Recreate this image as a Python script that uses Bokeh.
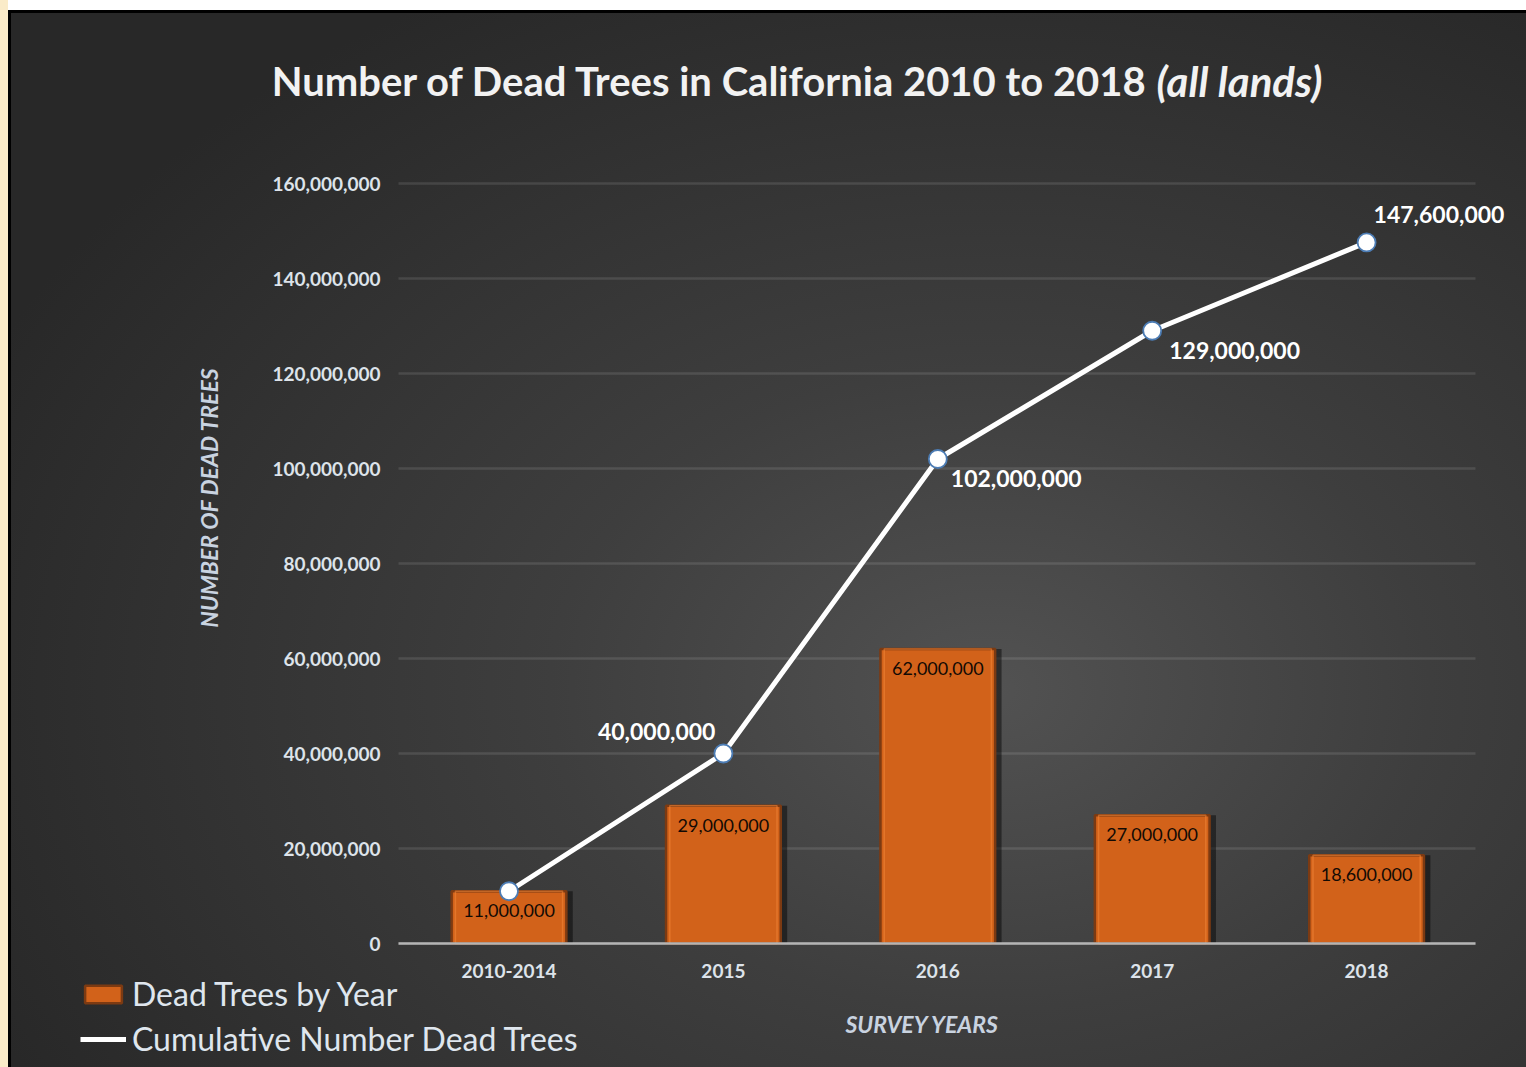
import numpy as np
from bokeh.plotting import figure
from bokeh.models import (Range1d, FixedTicker, NumeralTickFormatter, ColumnDataSource,
                          Legend, LegendItem, InlineStyleSheet)
from bokeh.transform import dodge
from bokeh.core.properties import value
from bokeh.embed import file_html
from bokeh.resources import INLINE

# ---------------- data ----------------
categories = ["2010-2014", "2015", "2016", "2017", "2018"]
dead_by_year = [11_000_000, 29_000_000, 62_000_000, 27_000_000, 18_600_000]
cumulative = [11_000_000, 40_000_000, 102_000_000, 129_000_000, 147_600_000]
bar_labels = ["11,000,000", "29,000,000", "62,000,000", "27,000,000", "18,600,000"]
line_labels = ["", "40,000,000", "102,000,000", "129,000,000", "147,600,000"]
y_ticks = [0, 20_000_000, 40_000_000, 60_000_000, 80_000_000,
           100_000_000, 120_000_000, 140_000_000, 160_000_000]
title_main = "Number of Dead Trees in California 2010 to 2018"
title_note = "(all lands)"
y_title = "NUMBER OF DEAD TREES"
x_title = "SURVEY YEARS"

# ---------------- layout constants (pixels -> data) ----------------
FONT = "Lato"
W, H = 1526, 1067
PX_PER_CAT = 214.4        # horizontal pixels per category
X0_PX = 508.5             # pixel position of first category
PX_PER_M = 4.75           # vertical pixels per million
Y0_PX = 943               # pixel position of y = 0


def xd(px):
    return (px - X0_PX) / PX_PER_CAT


def yd(py):
    return (Y0_PX - py) / PX_PER_M * 1e6


idx = list(range(len(categories)))

css = InlineStyleSheet(css="""
:host {
  background:
    linear-gradient(to right, #faebc8 0px, #faebc8 8px, transparent 8px),
    linear-gradient(to bottom, #ffffff 0px, #ffffff 10px, transparent 10px),
    linear-gradient(to right, transparent 8px, #000000 8px, #000000 11px, transparent 11px),
    linear-gradient(to bottom, transparent 10px, #000000 10px, #000000 13px, transparent 13px),
    radial-gradient(ellipse 1100px 800px at 990px 690px, #525252 0%, #3e3e3e 40%, #282828 100%);
}
""")

p = figure(width=W, height=H, output_backend="svg", toolbar_location=None,
           x_range=Range1d(xd(0), xd(W)), y_range=Range1d(yd(H), yd(0)),
           min_border=0, border_fill_color=None, background_fill_color=None,
           outline_line_color=None, stylesheets=[css])

grid_left, grid_right = xd(398), xd(1475)

# grid (horizontal lines only between the y axis and the right end of the plot)
p.xgrid.visible = False
yg = p.ygrid[0]
GRID_STYLE = dict(line_color="white", line_alpha=0.11, line_width=2.5)
if "cross_bounds" in yg.properties():
    yg.ticker = FixedTicker(ticks=y_ticks)
    yg.grid_line_color = GRID_STYLE["line_color"]
    yg.grid_line_alpha = GRID_STYLE["line_alpha"]
    yg.grid_line_width = GRID_STYLE["line_width"]
    yg.cross_bounds = (grid_left, grid_right)
else:
    yg.visible = False
    p.segment(x0=[grid_left] * len(y_ticks), x1=[grid_right] * len(y_ticks),
              y0=y_ticks, y1=y_ticks, **GRID_STYLE)

# y axis (drawn at the left end of the grid lines)
ya = p.yaxis[0]
ya.fixed_location = grid_left
ya.bounds = (0, 160_000_000)
ya.ticker = FixedTicker(ticks=y_ticks)
ya.formatter = NumeralTickFormatter(format="0,0")
ya.axis_line_color = None
ya.major_tick_line_color = None
ya.minor_tick_line_color = None
ya.major_tick_out = 0
ya.major_label_standoff = 18
ya.major_label_text_font = FONT
ya.major_label_text_font_style = "bold"
ya.major_label_text_font_size = "19px"
ya.major_label_text_color = "#dde3ea"

# x axis (drawn at y = 0)
xa = p.xaxis[0]
xa.fixed_location = 0
xa.ticker = FixedTicker(ticks=idx)
xa.major_label_overrides = {i: c for i, c in zip(idx, categories)}
xa.bounds = (grid_left, grid_right)
xa.axis_line_color = "#b4b4b4"
xa.axis_line_width = 2.5
xa.major_tick_line_color = None
xa.minor_tick_line_color = None
xa.major_tick_out = 0
xa.major_label_standoff = 20
xa.major_label_text_font = FONT
xa.major_label_text_font_style = "bold"
xa.major_label_text_font_size = "19px"
xa.major_label_text_color = "#dde3ea"

# axis titles
p.text(x=[xd(208)], y=[yd(497)], text=[y_title], angle=np.pi / 2, text_align="center",
       text_baseline="middle", text_font=value(FONT), text_font_style="bold italic",
       text_font_size="23px", text_color="#c9d3e0")
p.text(x=[xd(922)], y=[yd(1023)], text=[x_title], text_align="center",
       text_baseline="middle", text_font=value(FONT), text_font_style="bold italic",
       text_font_size="23px", text_color="#c9d3e0")

src = ColumnDataSource(dict(x=idx, cat=categories, dead=dead_by_year, cum=cumulative,
                            blab=bar_labels, llab=line_labels))

# bar shadow + bars
p.vbar(x=dodge("x", 0.03, range=p.x_range), top="dead", width=0.535, source=src,
       fill_color="black", fill_alpha=0.45, line_color=None)
bars = p.vbar(x="x", top="dead", width=0.535, source=src,
              fill_color="#d2621a", line_color="#7c3a12", line_width=2.5)
p.vbar(x="x", top="dead", width=0.50, source=src, bottom=0,
       fill_color=None, line_color="#f08436", line_width=1.5, line_alpha=0.6)

p.text(x="x", y="dead", text="blab", source=src, text_align="center", text_baseline="top",
       y_offset=13, text_font=value(FONT), text_font_size="18px", text_color="#120a04")

# cumulative line
line_r = p.line(x="x", y="cum", source=src, line_color="white", line_width=5)
p.scatter(x="x", y="cum", source=src, size=18, marker="circle", fill_color="white",
          line_color="#4c7cb4", line_width=1.8)

# line labels
lab_left = ColumnDataSource(dict(x=idx[2:], y=cumulative[2:], t=line_labels[2:],
                                 dx=[13, 17, 7], dy=[19, 20, -28]))
lab_right = ColumnDataSource(dict(x=idx[1:2], y=cumulative[1:2], t=line_labels[1:2],
                                  dx=[-8], dy=[-22]))
for s, al in ((lab_left, "left"), (lab_right, "right")):
    p.text(x="x", y="y", text="t", source=s, x_offset="dx", y_offset="dy",
           text_align=al, text_baseline="middle", text_font=value(FONT),
           text_font_style="bold", text_font_size="23px", text_color="white")

# title
ty = yd(80)
p.text(x=[xd(1148)], y=[ty], text=[title_main], text_align="right", text_baseline="middle",
       text_font=value(FONT), text_font_style="bold", text_font_size="40px",
       text_color="#f2f2f2")
p.text(x=[xd(1156)], y=[ty], text=[title_note], text_align="left", text_baseline="middle",
       text_font=value(FONT), text_font_style="bold italic", text_font_size="42px",
       text_color="#f2f2f2")

legend = Legend(items=[LegendItem(label="Dead Trees by Year", renderers=[bars]),
                       LegendItem(label="Cumulative Number Dead Trees", renderers=[line_r])],
                location=(80, 9), background_fill_alpha=0, border_line_alpha=0,
                label_text_color="#dfe6ee", label_text_font=FONT, label_text_font_size="32px",
                glyph_width=46, glyph_height=22, label_height=30, spacing=6,
                padding=0, margin=0, label_standoff=6)
p.add_layout(legend)

open("out.html", "w").write(file_html(p, INLINE))
